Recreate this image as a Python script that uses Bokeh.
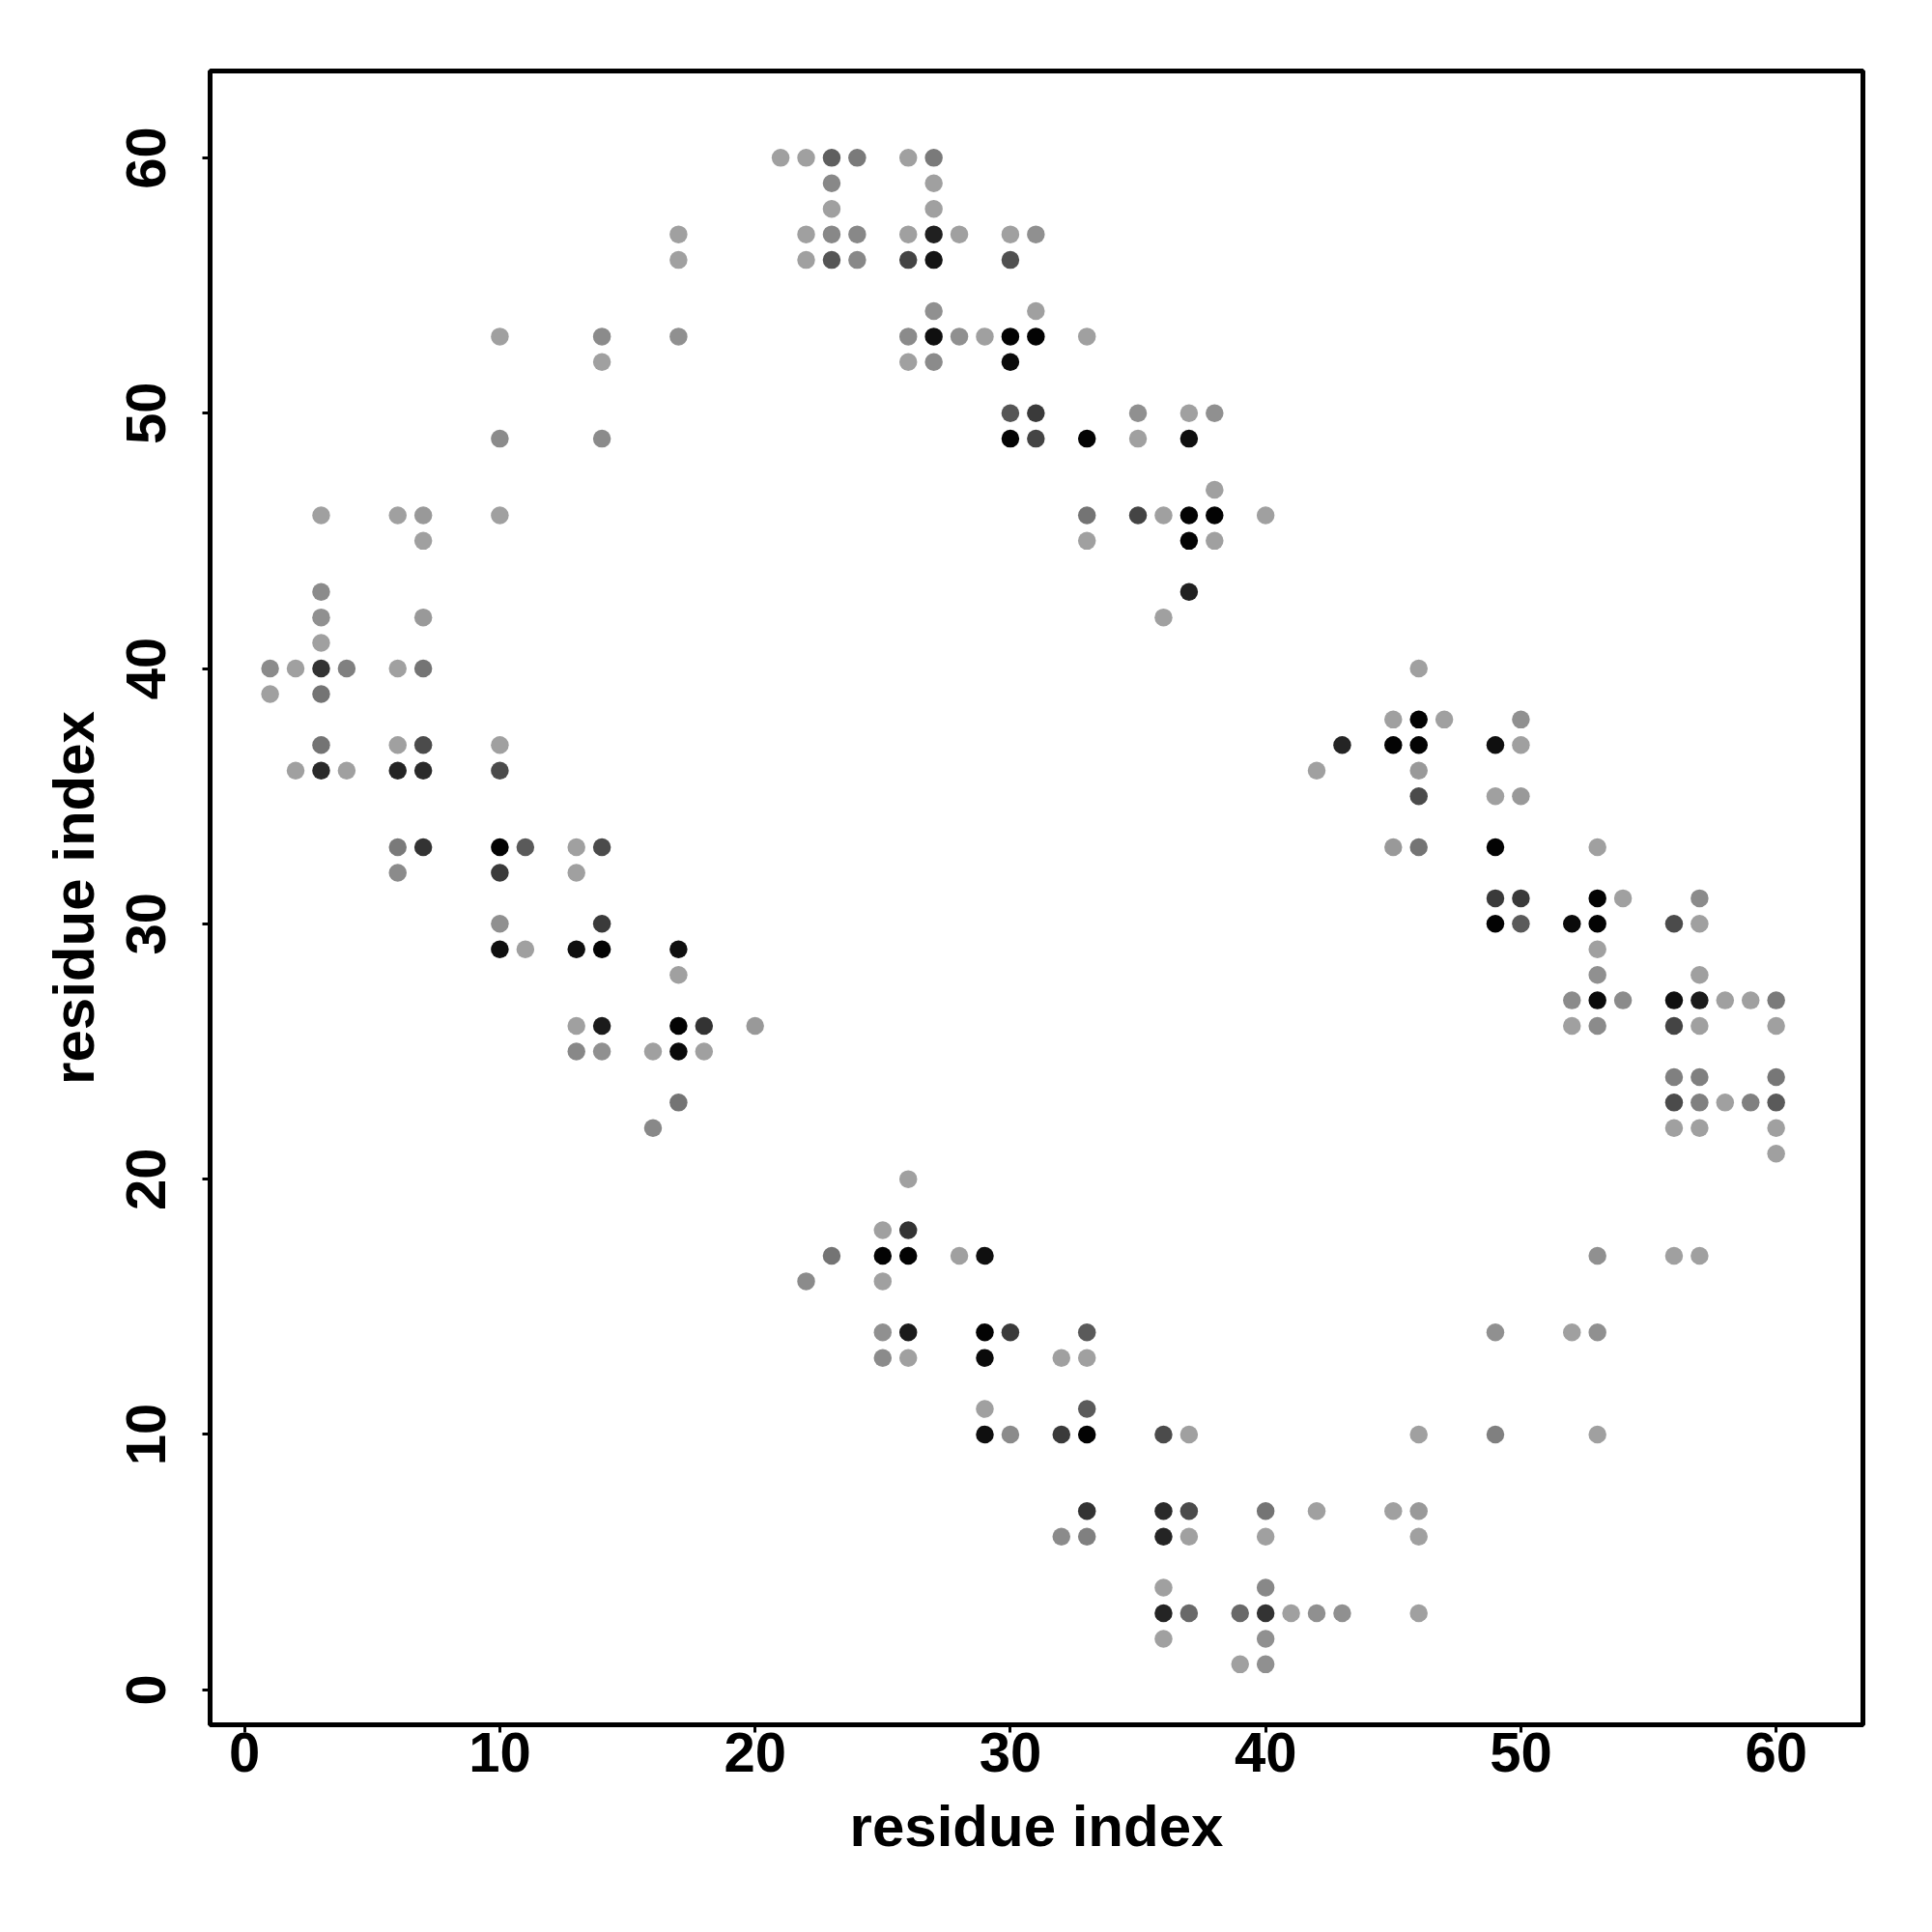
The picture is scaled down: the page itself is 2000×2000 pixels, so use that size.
from bokeh.plotting import figure
from bokeh.models import Range1d, FixedTicker, ColumnDataSource
from bokeh.embed import file_html
from bokeh.resources import INLINE

# residue index pairs (x, y) and contact strength (0 = weak/light grey, 1 = strong/black)
res_x = [
    21, 22, 23, 24, 26, 27,                      # y=60
    23, 27,                                      # y=59
    23, 27,                                      # y=58
    17, 22, 23, 24, 26, 27, 28, 30, 31,          # y=57
    17, 22, 23, 24, 26, 27, 30,                  # y=56
    27, 31,                                      # y=54
    10, 14, 17, 26, 27, 28, 29, 30, 31, 33,      # y=53
    14, 26, 27, 30,                              # y=52
    30, 31, 35, 37, 38,                          # y=50
    10, 14, 30, 31, 33, 35, 37,                  # y=49
    38,                                          # y=47
    3, 6, 7, 10, 33, 35, 36, 37, 38, 40,         # y=46
    7, 33, 37, 38,                               # y=45
    3, 37,                                       # y=43
    3, 7, 36,                                    # y=42
    3,                                           # y=41
    1, 2, 3, 4, 6, 7, 46,                        # y=40
    1, 3,                                        # y=39
    45, 46, 47, 50,                              # y=38
    3, 6, 7, 10, 43, 45, 46, 49, 50,             # y=37
    2, 3, 4, 6, 7, 10, 42, 46,                   # y=36
    46, 49, 50,                                  # y=35
    6, 7, 10, 11, 13, 14, 45, 46, 49, 53,        # y=33
    6, 10, 13,                                   # y=32
    49, 50, 53, 54, 57,                          # y=31
    10, 14, 49, 50, 52, 53, 56, 57,              # y=30
    10, 11, 13, 14, 17, 53,                      # y=29
    17, 53, 57,                                  # y=28
    52, 53, 54, 56, 57, 58, 59, 60,              # y=27
    13, 14, 17, 18, 20, 52, 53, 56, 57, 60,      # y=26
    13, 14, 16, 17, 18,                          # y=25
    56, 57, 60,                                  # y=24
    17, 56, 57, 58, 59, 60,                      # y=23
    16, 56, 57, 60,                              # y=22
    60,                                          # y=21
    26,                                          # y=20
    25, 26,                                      # y=18
    23, 25, 26, 28, 29, 53, 56, 57,              # y=17
    22, 25,                                      # y=16
    25, 26, 29, 30, 33, 49, 52, 53,              # y=14
    25, 26, 29, 32, 33,                          # y=13
    29, 33,                                      # y=11
    29, 30, 32, 33, 36, 37, 46, 49, 53,          # y=10
    33, 36, 37, 40, 42, 45, 46,                  # y=7
    32, 33, 36, 37, 40, 46,                      # y=6
    36, 40,                                      # y=4
    36, 37, 39, 40, 41, 42, 43, 46,              # y=3
    36, 40,                                      # y=2
    39, 40,                                      # y=1
]

res_y = (
    [60] * 6 + [59] * 2 + [58] * 2 + [57] * 9 + [56] * 7 + [54] * 2 + [53] * 10
    + [52] * 4 + [50] * 5 + [49] * 7 + [47] * 1 + [46] * 10 + [45] * 4 + [43] * 2
    + [42] * 3 + [41] * 1 + [40] * 7 + [39] * 2 + [38] * 4 + [37] * 9 + [36] * 8
    + [35] * 3 + [33] * 10 + [32] * 3 + [31] * 5 + [30] * 8 + [29] * 6 + [28] * 3
    + [27] * 8 + [26] * 10 + [25] * 5 + [24] * 3 + [23] * 6 + [22] * 4 + [21] * 1
    + [20] * 1 + [18] * 2 + [17] * 8 + [16] * 2 + [14] * 8 + [13] * 5 + [11] * 2
    + [10] * 9 + [7] * 7 + [6] * 6 + [4] * 2 + [3] * 8 + [2] * 2 + [1] * 2
)

contact = [
    .06, .06, .44, .28, .06, .28,
    .20, .06,
    .06, .06,
    .06, .06, .20, .20, .06, .81, .06, .06, .15,
    .06, .06, .50, .20, .60, .88, .53,
    .15, .06,
    .06, .18, .15, .18, .91, .15, .06, .98, .98, .06,
    .06, .06, .18, .94,
    .50, .66, .15, .06, .15,
    .18, .18, .98, .60, .98, .06, .91,
    .06,
    .06, .06, .10, .06, .32, .60, .06, .98, .98, .06,
    .06, .06, .98, .06,
    .18, .81,
    .15, .10, .06,
    .06,
    .18, .06, .70, .25, .06, .32, .06,
    .06, .32,
    .06, .98, .06, .15,
    .32, .06, .56, .06, .79, .98, .98, .91, .06,
    .06, .75, .06, .79, .75, .56, .06, .10,
    .56, .06, .10,
    .28, .70, .98, .47, .06, .56, .10, .32, .98, .06,
    .18, .66, .06,
    .66, .66, .98, .06, .18,
    .15, .66, .98, .47, .94, .98, .56, .06,
    .91, .06, .91, .98, .91, .06,
    .06, .15, .06,
    .18, .94, .18, .91, .84, .06, .06, .28,
    .06, .84, .98, .70, .10, .06, .18, .60, .06, .06,
    .20, .15, .06, .94, .06,
    .25, .25, .30,
    .32, .56, .25, .06, .25, .47,
    .20, .06, .06, .06,
    .06,
    .06,
    .06, .70,
    .32, .98, .98, .06, .91, .15, .06, .06,
    .18, .06,
    .15, .84, .98, .66, .47, .15, .06, .15,
    .18, .06, .94, .06, .06,
    .06, .47,
    .91, .18, .66, .98, .56, .06, .06, .25, .06,
    .70, .75, .56, .32, .06, .06, .10,
    .18, .25, .79, .06, .06, .06,
    .06, .20,
    .79, .38, .38, .70, .06, .15, .15, .06,
    .06, .15,
    .06, .15,
]

ticks = [0, 10, 20, 30, 40, 50, 60]


def grey(v):
    g = int(round(170 * (1 - v)))
    return "#%02x%02x%02x" % (g, g, g)


source = ColumnDataSource(dict(x=res_x, y=res_y, c=[grey(v) for v in contact]))

FONT = "Liberation Sans"
FS = "58px"
FS_TITLE = "60px"

p = figure(
    frame_width=1711, frame_height=1712,
    min_border_left=217, min_border_top=73, min_border_right=50, min_border_bottom=190,
    x_range=Range1d(-1.35, 63.4), y_range=Range1d(-1.37, 63.4),
    output_backend="svg", toolbar_location=None,
    background_fill_color="white", border_fill_color="white",
)
p.xgrid.visible = False
p.ygrid.visible = False
p.outline_line_color = "black"
p.outline_line_width = 5
p.outline_line_alpha = 1.0

p.scatter("x", "y", source=source, size=18.5, fill_color="c", line_color=None, marker="circle")

for ax in (p.xaxis[0], p.yaxis[0]):
    ax.ticker = FixedTicker(ticks=ticks, minor_ticks=[])
    ax.axis_line_color = None
    ax.major_tick_out = 8
    ax.major_tick_in = 0
    ax.major_tick_line_width = 3
    ax.major_tick_line_color = "black"
    ax.minor_tick_line_color = None
    ax.major_label_text_font = FONT
    ax.major_label_text_font_style = "bold"
    ax.major_label_text_font_size = FS
    ax.major_label_text_color = "black"
    ax.axis_label = "residue index"
    ax.axis_label_text_font = FONT
    ax.axis_label_text_font_style = "bold"
    ax.axis_label_text_font_size = FS_TITLE
    ax.axis_label_text_color = "black"

p.xaxis[0].major_label_standoff = 0
p.xaxis[0].axis_label_standoff = 20
p.yaxis[0].major_label_orientation = "vertical"
p.yaxis[0].major_label_standoff = 38
p.yaxis[0].axis_label_standoff = 19

open("out.html", "w").write(file_html(p, INLINE))
